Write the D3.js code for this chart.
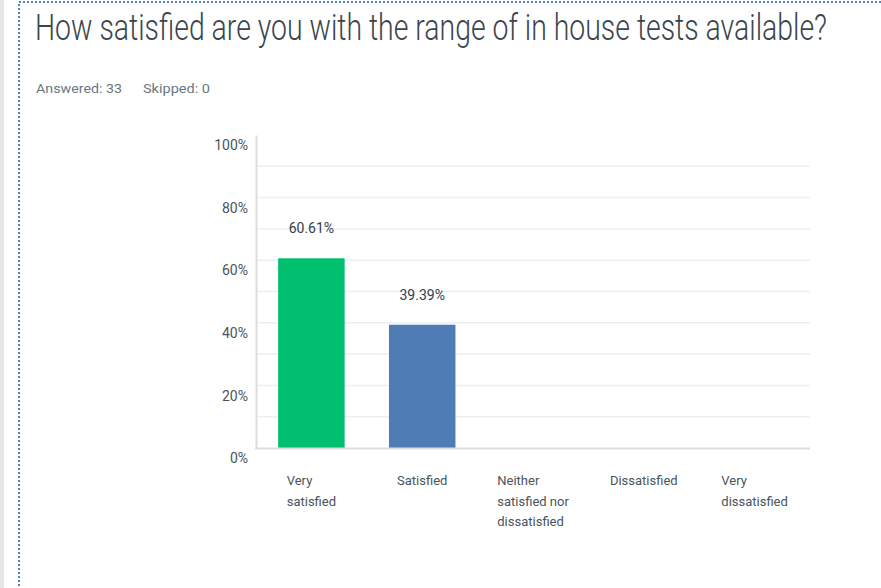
<!DOCTYPE html>
<html>
<head>
<meta charset="utf-8">
<script src="https://cdn.jsdelivr.net/npm/d3@7"></script>
<style>
  html, body { margin: 0; padding: 0; background: #fff; }
  svg { display: block; font-family: Roboto, "Noto Sans", sans-serif; }
</style>
</head>
<body>
<svg id="chart" width="881" height="588"></svg>
<script>
const title = "How satisfied are you with the range of in house tests available?";
const answeredText = "Answered: 33";
const skippedText = "Skipped: 0";
const categories = [
  ["Very", "satisfied"],
  ["Satisfied"],
  ["Neither", "satisfied nor", "dissatisfied"],
  ["Dissatisfied"],
  ["Very", "dissatisfied"]
];
const values = [60.61, 39.39, 0, 0, 0];
const barColors = ["#00bf6f", "#507cb6", "#507cb6", "#507cb6", "#507cb6"];
const yTicks = [0, 20, 40, 60, 80, 100];
const gridTicks = [10, 20, 30, 40, 50, 60, 70, 80, 90];

const svg = d3.select("#chart");

// left gray strip
svg.append("rect").attr("x", 0).attr("y", 0).attr("width", 4).attr("height", 588).attr("fill", "#e6e6e6");
// dotted blue border
svg.append("path")
  .attr("d", "M19,590 L19,2 L885,2")
  .attr("fill", "none")
  .attr("stroke", "#4f80c8")
  .attr("stroke-width", 2)
  .attr("stroke-dasharray", "2,2");

// title (condensed look: stretched vertically, fitted to width)
svg.append("text")
  .attr("transform", "translate(35,40) scale(1,1.3)")
  .attr("x", 0).attr("y", 0)
  .attr("font-size", 28).attr("font-weight", 300)
  .attr("fill", "#3b454e")
  .attr("textLength", 792).attr("lengthAdjust", "spacingAndGlyphs")
  .text(title);

svg.append("text").attr("x", 36).attr("y", 93).attr("font-size", 13.5).attr("fill", "#6b787f")
  .attr("textLength", 86).attr("lengthAdjust", "spacingAndGlyphs").text(answeredText);
svg.append("text").attr("x", 143).attr("y", 93).attr("font-size", 13.5).attr("fill", "#6b787f")
  .attr("textLength", 67).attr("lengthAdjust", "spacingAndGlyphs").text(skippedText);

const plotLeft = 256, plotRight = 810, plotTop = 135, plotBottom = 448;
const x = d3.scaleBand().domain(d3.range(categories.length)).range([plotLeft, plotRight])
  .paddingInner(0.4).paddingOuter(0.2);
const y = d3.scaleLinear().domain([0, 100]).range([plotBottom, plotTop]);

// gridlines
svg.append("g").selectAll("line").data(gridTicks).join("line")
  .attr("x1", plotLeft).attr("x2", plotRight)
  .attr("y1", d => y(d)).attr("y2", d => y(d))
  .attr("stroke", "#eeeeee").attr("stroke-width", 1.5);

// y axis
const yAxis = d3.axisLeft(y).tickValues(yTicks).tickFormat(d => d + "%").tickSize(0).tickPadding(8);
const gy = svg.append("g").attr("transform", `translate(${plotLeft},0)`).call(yAxis);
gy.select(".domain").attr("stroke", "#dddddd").attr("stroke-width", 2);
gy.selectAll("text")
  .attr("font-family", "Roboto, sans-serif")
  .attr("font-size", 14).attr("fill", "#4a545c")
  .attr("dy", "1.05em");

// bars
svg.append("g").selectAll("rect").data(values).join("rect")
  .attr("x", (d, i) => x(i))
  .attr("y", d => y(d))
  .attr("width", x.bandwidth())
  .attr("height", d => plotBottom - y(d))
  .attr("fill", (d, i) => barColors[i]);

// baseline
svg.append("line").attr("x1", plotLeft - 1).attr("x2", plotRight).attr("y1", plotBottom + 0.5).attr("y2", plotBottom + 0.5)
  .attr("stroke", "#dddddd").attr("stroke-width", 2);

// value labels
svg.append("g").selectAll("text").data(values.map((v, i) => [v, i]).filter(d => d[0] > 0)).join("text")
  .attr("x", d => x(d[1]) + x.bandwidth() / 2)
  .attr("y", d => y(d[0]) - 25)
  .attr("text-anchor", "middle")
  .attr("font-size", 14).attr("fill", "#333e48")
  .text(d => d[0].toFixed(2) + "%");

// category labels: left-aligned block centred on each band
const cat = svg.append("g").selectAll("text").data(categories).join("text")
  .attr("y", 485)
  .attr("font-size", 13).attr("fill", "#4a545c");
cat.selectAll("tspan").data(d => d).join("tspan")
  .attr("dy", (d, i) => i === 0 ? 0 : 20.5)
  .text(d => d);
cat.each(function(d, i) {
  const t = d3.select(this);
  let w = 0;
  t.selectAll("tspan").each(function() { w = Math.max(w, this.getComputedTextLength()); });
  const x0 = x(i) + x.bandwidth() / 2 - w / 2;
  t.attr("x", x0);
  t.selectAll("tspan").attr("x", x0);
});
</script>
</body>
</html>
